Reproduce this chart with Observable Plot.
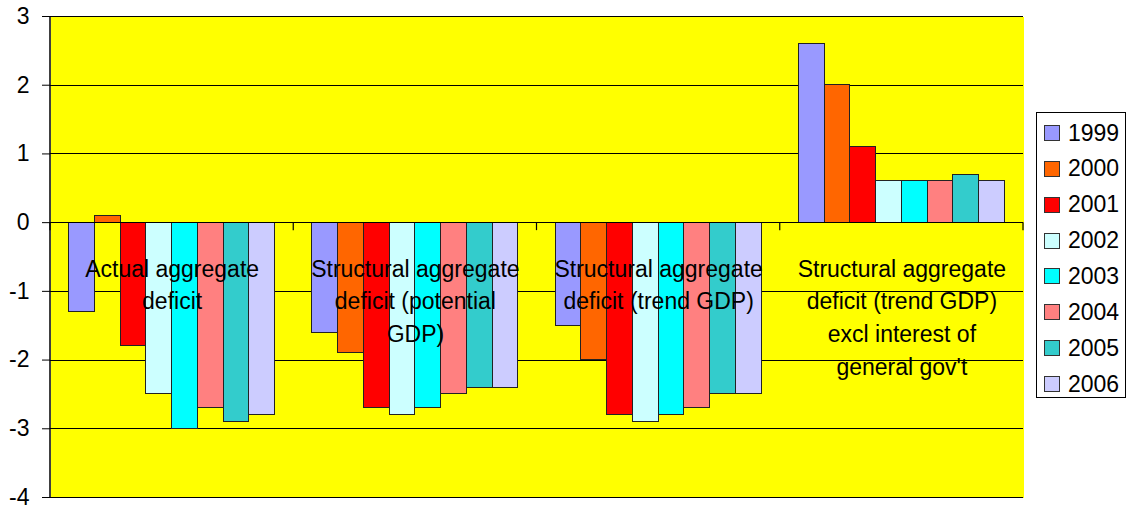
<!DOCTYPE html>
<html><head><meta charset="utf-8">
<script src="https://cdn.jsdelivr.net/npm/d3@7"></script>
<script src="https://cdn.jsdelivr.net/npm/@observablehq/plot@0.6"></script>
<style>
body{margin:0;background:#fff;font-family:"Liberation Sans",Arial,sans-serif;}
#wrap{position:relative;width:1127px;height:505px;}
#wrap svg{overflow:visible;}
#legend{position:absolute;left:1036px;top:112px;width:88px;height:284px;border:1px solid #000;background:#fff;}
.row{position:absolute;left:7px;height:36px;display:flex;align-items:center;font-size:23px;color:#000;}
.sw{width:14px;height:14px;border:1px solid #333;margin-right:8px;}
</style></head><body><div id="wrap"></div>
<script>
const categories = ["actual", "potential", "trend", "exclInterest"];
const categoryLabels = [
  "Actual aggregate\ndeficit",
  "Structural aggregate\ndeficit (potential\nGDP)",
  "Structural aggregate\ndeficit (trend GDP)",
  "Structural aggregate\ndeficit (trend GDP)\nexcl interest of\ngeneral gov't"
];
const years = ["1999", "2000", "2001", "2002", "2003", "2004", "2005", "2006"];
const colors = ["#9999FF", "#FF6600", "#FF0000", "#CCFFFF", "#00FFFF", "#FF8080", "#33CCCC", "#CCCCFF"];
const actual = [-1.3, 0.1, -1.8, -2.5, -3.0, -2.7, -2.9, -2.8];
const potential = [-1.6, -1.9, -2.7, -2.8, -2.7, -2.5, -2.4, -2.4];
const trend = [-1.5, -2.0, -2.8, -2.9, -2.8, -2.7, -2.5, -2.5];
const exclInterest = [2.6, 2.0, 1.1, 0.6, 0.6, 0.6, 0.7, 0.6];
const yTicks = [-4, -3, -2, -1, 0, 1, 2, 3];

const series = {actual, potential, trend, exclInterest};
const table = categories.flatMap(c => years.map((yr, i) => ({category: c, year: yr, value: series[c][i]})));

const plot = Plot.plot({
  width: 1127, height: 505,
  marginLeft: 50, marginRight: 104, marginTop: 16, marginBottom: 8,
  style: {fontFamily: "'Liberation Sans', Arial, sans-serif", fontSize: "23px", background: "transparent", color: "#000", overflow: "visible"},
  fx: {domain: categories, padding: 0, axis: null, round: false},
  x: {domain: years, paddingInner: 0, paddingOuter: 0.72, axis: null, round: false},
  y: {domain: [-4, 3], ticks: yTicks, tickSize: 8, tickPadding: 13, label: null, tickFormat: d => String(d)},
  color: {domain: years, range: colors},
  marks: [
    Plot.frame({fill: "#FFFF00", shapeRendering: "crispEdges"}),
    Plot.gridY(yTicks, {stroke: "#000", strokeOpacity: 1, strokeWidth: 1, shapeRendering: "crispEdges"}),
    Plot.barY(table, {fx: "category", x: "year", y: "value", fill: "year", stroke: "#222", strokeWidth: 1, shapeRendering: "crispEdges"}),
    Plot.ruleY([0], {stroke: "#000", strokeWidth: 1, shapeRendering: "crispEdges"}),
    Plot.text(categories, {fx: d => d, y: d => 0, text: (d, i) => categoryLabels[i], lineAnchor: "top", dy: 31, lineHeight: 1.42, fontSize: 23, fill: "#000"})
  ]
});

const svg = d3.select(plot);
const fx = plot.scale("fx"), y = plot.scale("y");
const x0 = fx.apply(categories[0]);
svg.append("line").attr("x1", x0).attr("x2", x0).attr("y1", y.apply(3)).attr("y2", y.apply(-4)).attr("stroke", "#000").attr("stroke-width", 1.5);
const bounds = categories.map(c => fx.apply(c)).concat([fx.apply(categories[categories.length - 1]) + fx.bandwidth]);
bounds.forEach(b => svg.append("line").attr("x1", b).attr("x2", b).attr("y1", y.apply(0)).attr("y2", y.apply(0) + 8).attr("stroke", "#000").attr("stroke-width", 1.2));

const wrap = document.getElementById("wrap");
wrap.appendChild(plot);
const legend = document.createElement("div");
legend.id = "legend";
const cs = plot.scale("color");
cs.domain.forEach((yr, i) => {
  const row = document.createElement("div");
  row.className = "row";
  row.style.top = (2 + i * 35.86) + "px";
  const sw = document.createElement("span");
  sw.className = "sw";
  sw.style.background = cs.range[i];
  row.appendChild(sw);
  row.appendChild(document.createTextNode(yr));
  legend.appendChild(row);
});
wrap.appendChild(legend);
</script></body></html>
